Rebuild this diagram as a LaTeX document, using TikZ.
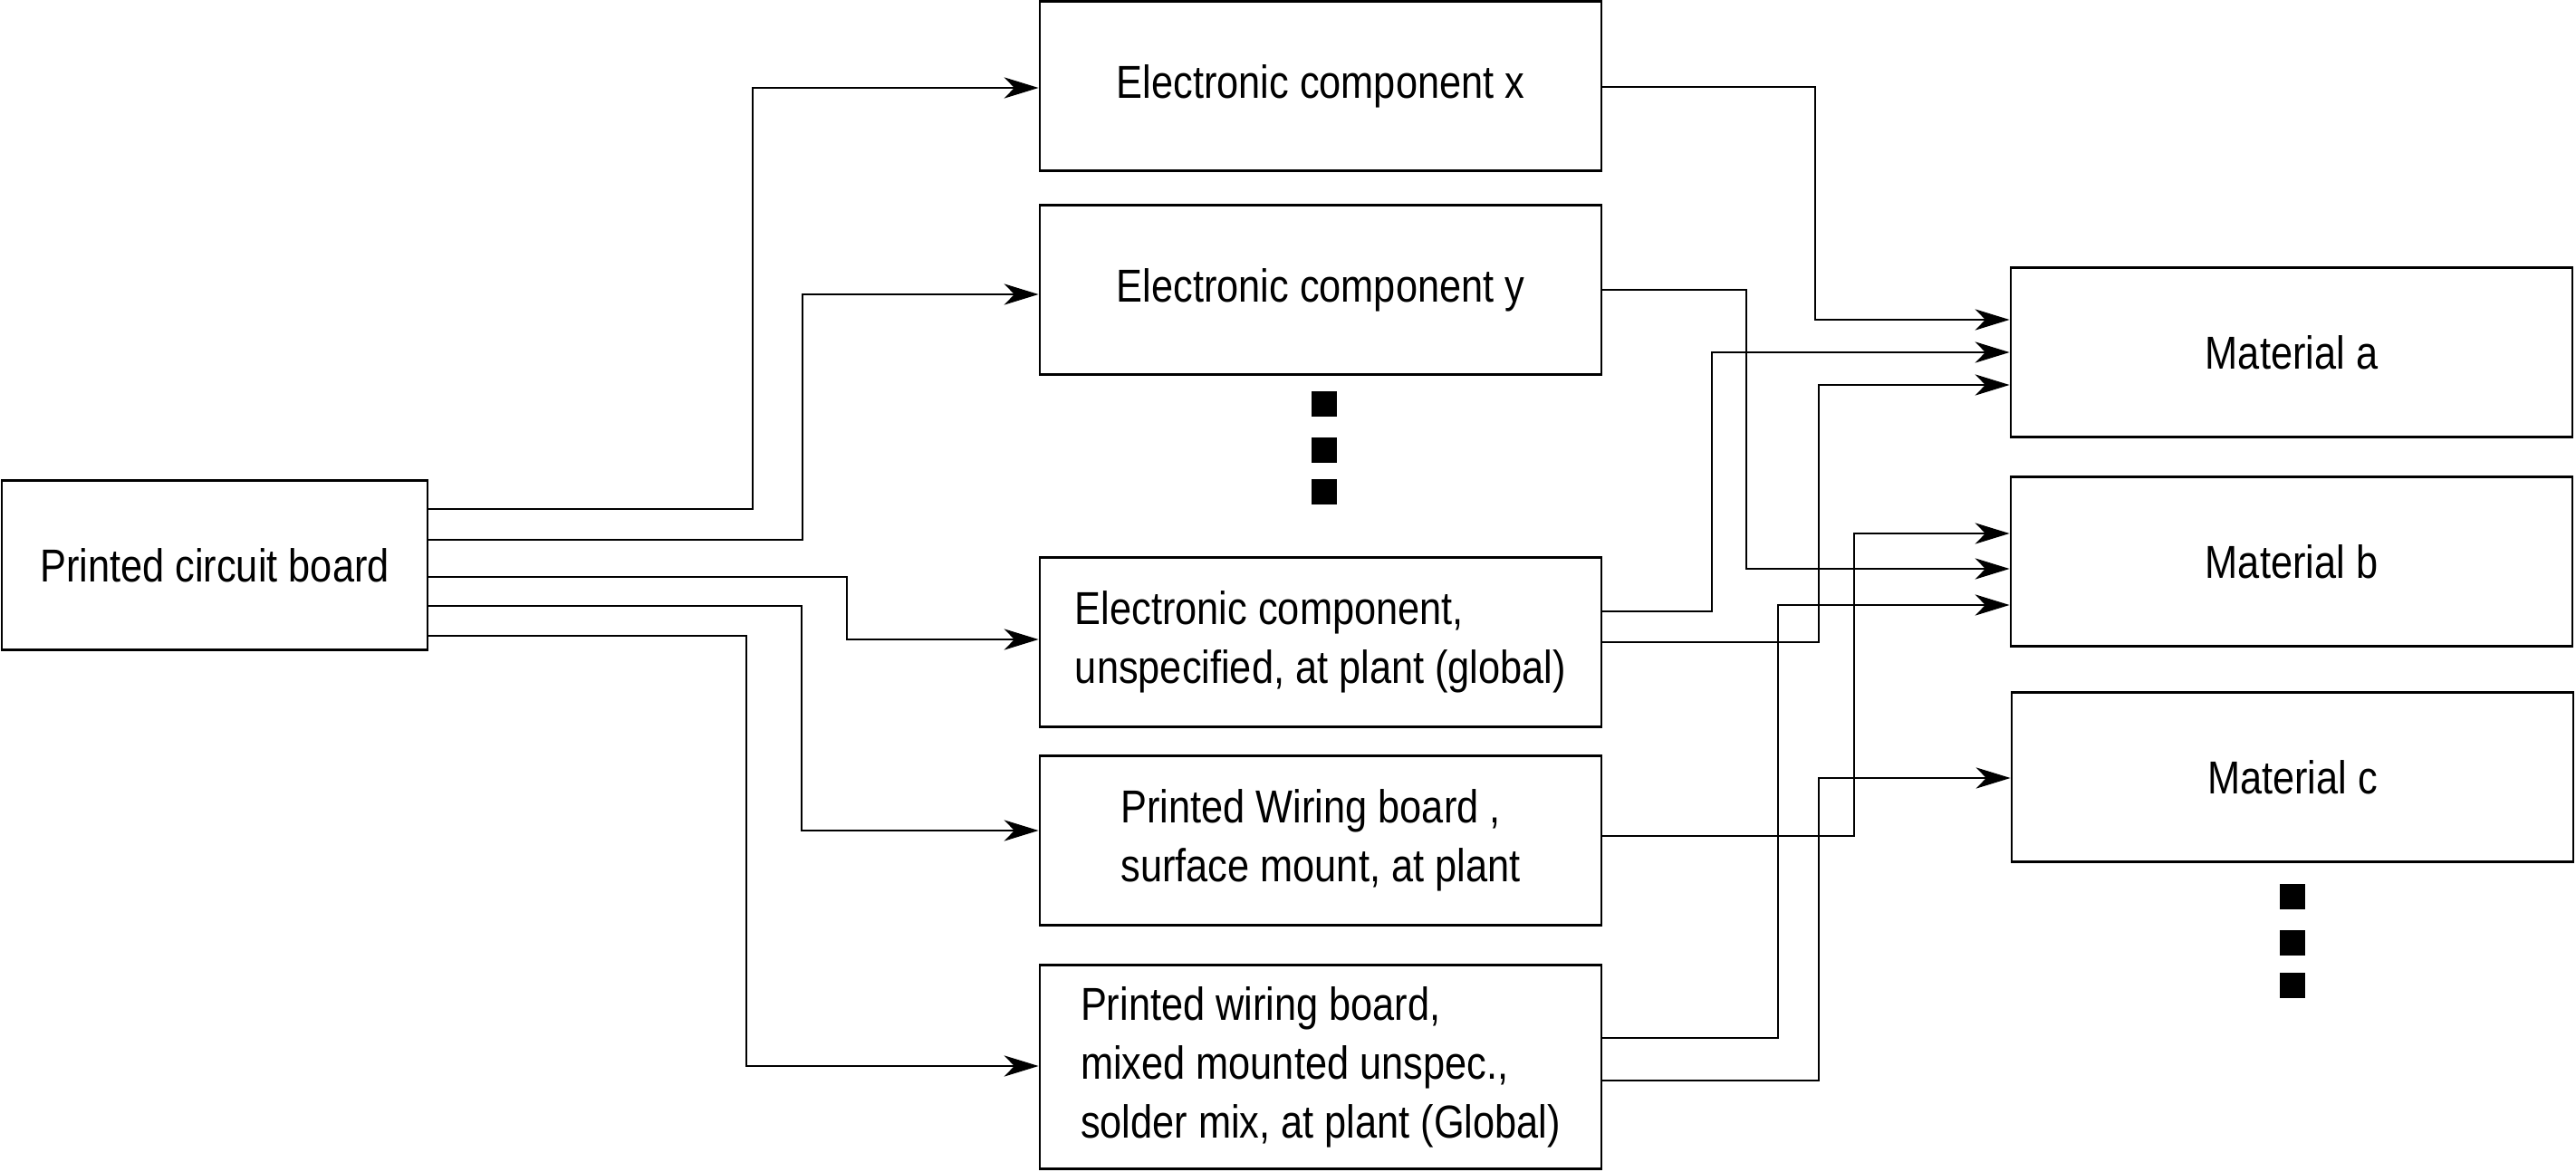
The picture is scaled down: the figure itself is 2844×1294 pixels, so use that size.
\documentclass[tikz,border=0pt]{standalone}
\usepackage{fontspec}
\setmainfont{Liberation Sans}[FakeStretch=0.85]
\usetikzlibrary{arrows.meta}

\begin{document}
\begin{tikzpicture}[
        x=0.01cm, y=-0.01cm,
        font=\fontsize{14.5pt}{18.5pt}\selectfont,
        box/.style={rectangle, draw, line width=0.7pt, minimum width=6.2cm, minimum height=1.87cm, align=left},
        arrow/.style={-{Stealth[length=10.8pt, width=6.6pt, inset=3.2pt]}, line width=0.45pt},
        dot/.style={rectangle, fill, minimum size=0.28cm, inner sep=0pt}
    ]
        \useasboundingbox (0,0) rectangle (2844,1294);

        % Source
        \node[box, minimum width=4.7cm] (pcb) at (237,624) {Printed circuit board};

        % Components
        \node[box] (ecx) at (1458,95) {Electronic component x};
        \node[box] (ecy) at (1458,320) {Electronic component y};
        \node[box] (ecu) at (1458,709) {
            Electronic component,\\
            unspecified, at plant (global)
        };
        \node[box] (pws) at (1458,928) {
            Printed Wiring board ,\\
            surface mount, at plant
        };
        \node[box, minimum height=2.25cm] (pwm) at (1458,1178) {
            Printed wiring board,\\
            mixed mounted unspec.,\\
            solder mix, at plant (Global)
        };

        % Materials
        \node[box] (mata) at (2530,389) {Material a};
        \node[box] (matb) at (2530,620) {Material b};
        \node[box] (matc) at (2531,858) {Material c};

        % Dots
        \node[dot] (dc1) at (1462,446) {};
        \node[dot] (dc2) at (1462,497) {};
        \node[dot] (dc3) at (1462,543) {};
        \node[dot] (dm1) at (2531,990) {};
        \node[dot] (dm2) at (2531,1041) {};
        \node[dot] (dm3) at (2531,1088) {};

        % Arrows: board to components
        \draw[arrow] (pcb.east |- 0,562) -- (831,562) |- (ecx.west |- 0,97);
        \draw[arrow] (pcb.east |- 0,596) -- (886,596) |- (ecy.west |- 0,325);
        \draw[arrow] (pcb.east |- 0,637) -- (935,637) |- (ecu.west |- 0,706);
        \draw[arrow] (pcb.east |- 0,669) -- (885,669) |- (pws.west |- 0,917);
        \draw[arrow] (pcb.east |- 0,702) -- (824,702) |- (pwm.west |- 0,1177);

        % Arrows: components to materials
        \draw[arrow] (ecx.east |- 0,96) -- (2004,96) |- (mata.west |- 0,353);
        \draw[arrow] (ecy.east |- 0,320) -- (1928,320) |- (matb.west |- 0,628);
        \draw[arrow] (ecu.east |- 0,675) -- (1890,675) |- (mata.west |- 0,389);
        \draw[arrow] (ecu.east |- 0,709) -- (2008,709) |- (mata.west |- 0,425);
        \draw[arrow] (pws.east |- 0,923) -- (2047,923) |- (matb.west |- 0,589);
        \draw[arrow] (pwm.east |- 0,1146) -- (1963,1146) |- (matb.west |- 0,668);
        \draw[arrow] (pwm.east |- 0,1193) -- (2008,1193) |- (matc.west |- 0,859);
    \end{tikzpicture}
\end{document}
